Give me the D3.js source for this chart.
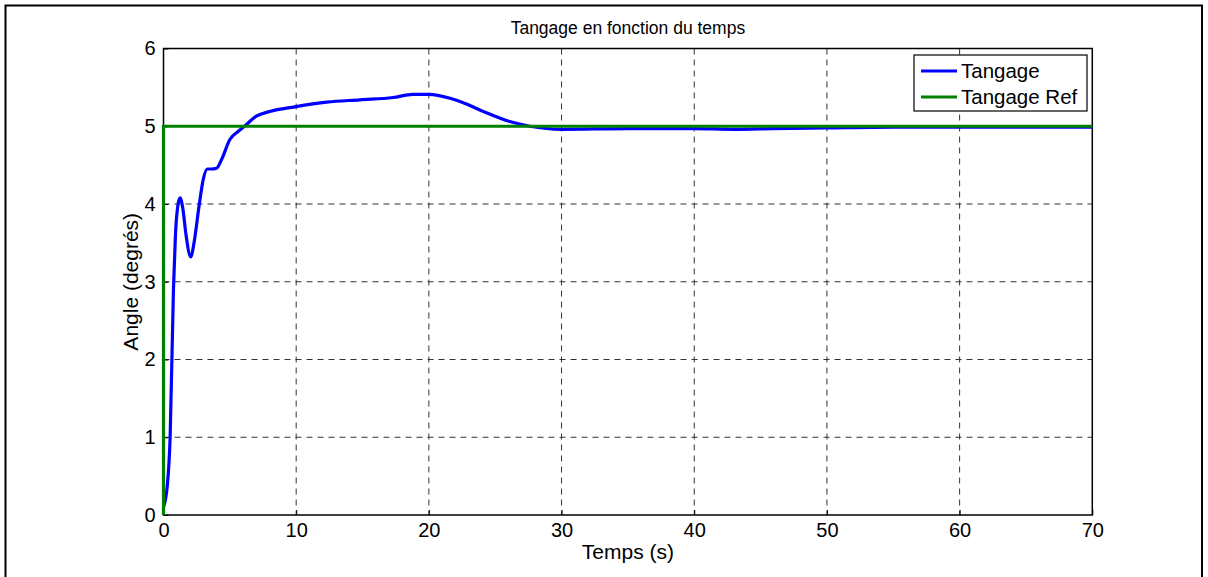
<!DOCTYPE html>
<html>
<head>
<meta charset="utf-8">
<script src="https://cdn.jsdelivr.net/npm/d3@7"></script>
<style>
body { margin:0; background:#fff; }
text { font-family: "Liberation Sans", Arial, sans-serif; fill:#000; }
</style>
</head>
<body>
<script>
// Tangage response
var tTime = [0,0.3,0.5,0.75,0.9,1.1,1.25,1.45,1.7,2.05,2.3,2.7,3.0,3.3,3.6,4.0,4.4,5.0,5.6,6.1,7.0,8.0,9.9,12.3,14.8,17.3,18.8,20.0,21.6,22.5,24.1,26.1,27.6,30.0,35,40,43,46,50,55,60,65,70];
var tAngle = [0.1,0.4,1.0,2.9,3.6,4.0,4.08,3.95,3.6,3.32,3.5,4.0,4.32,4.45,4.45,4.46,4.58,4.83,4.93,5.0,5.13,5.19,5.25,5.31,5.34,5.37,5.41,5.41,5.36,5.31,5.19,5.06,5.0,4.96,4.97,4.97,4.96,4.97,4.98,4.99,4.99,4.99,4.99];
// reference step
var refTime = [0,0,70];
var refAngle = [0,5,5];

var xTicks = [0,10,20,30,40,50,60,70];
var yTicks = [0,1,2,3,4,5,6];

var width = 1208, height = 577;
var margin = {left:163.5, right:115.7, top:48.5, bottom:62};
var w = width - margin.left - margin.right;
var h = height - margin.top - margin.bottom;

var x = d3.scaleLinear().domain([0,70]).range([0,w]);
var y = d3.scaleLinear().domain([0,6]).range([h,0]);

var svg = d3.select("body").append("svg").attr("width",width).attr("height",height);

// figure frame
svg.append("rect").attr("x",5.5).attr("y",5.5).attr("width",1196.5).attr("height",600)
   .attr("fill","none").attr("stroke","#000").attr("stroke-width",2);

var g = svg.append("g").attr("transform","translate("+margin.left+","+margin.top+")");

// grid
g.selectAll(".gx").data(xTicks.slice(1,-1)).enter().append("line")
  .attr("x1",function(d){return x(d);}).attr("x2",function(d){return x(d);})
  .attr("y1",0).attr("y2",h)
  .attr("stroke","#333").attr("stroke-width",1).attr("stroke-dasharray","6,5");
g.selectAll(".gy").data(yTicks.slice(1,-1)).enter().append("line")
  .attr("y1",function(d){return y(d);}).attr("y2",function(d){return y(d);})
  .attr("x1",0).attr("x2",w)
  .attr("stroke","#333").attr("stroke-width",1).attr("stroke-dasharray","6,5");

// axes
var xAxis = d3.axisBottom(x).tickValues(xTicks).tickSize(-5).tickPadding(8).tickFormat(d3.format("d"));
var yAxis = d3.axisLeft(y).tickValues(yTicks).tickSize(-5).tickPadding(8).tickFormat(d3.format("d"));
var gx = g.append("g").attr("transform","translate(0,"+h+")").call(xAxis);
var gy = g.append("g").call(yAxis);
gx.attr("font-size",20).attr("font-family","'Liberation Sans', Arial, sans-serif");
gy.attr("font-size",20).attr("font-family","'Liberation Sans', Arial, sans-serif");
g.selectAll(".domain").remove();

// box
g.append("rect").attr("x",0).attr("y",0).attr("width",w).attr("height",h)
  .attr("fill","none").attr("stroke","#000").attr("stroke-width",1.5);

// lines
var tData = tTime.map(function(t,i){return [t,tAngle[i]];});
var rData = refTime.map(function(t,i){return [t,refAngle[i]];});
var line = d3.line().x(function(d){return x(d[0]);}).y(function(d){return y(d[1]);});

g.append("path").datum(tData).attr("d",line.curve(d3.curveMonotoneX))
  .attr("fill","none").attr("stroke","#0000ff").attr("stroke-width",3.2);
g.append("path").datum(rData).attr("d",d3.line().x(function(d){return x(d[0]);}).y(function(d){return y(d[1]);}))
  .attr("fill","none").attr("stroke","#008000").attr("stroke-width",3.2);

// titles
svg.append("text").attr("x",margin.left+w/2).attr("y",34).attr("text-anchor","middle")
  .style("font-size","17.5px").text("Tangage en fonction du temps");
svg.append("text").attr("x",margin.left+w/2).attr("y",559).attr("text-anchor","middle")
  .style("font-size","21px").text("Temps (s)");
svg.append("text").attr("transform","translate(138,"+(margin.top+h/2)+") rotate(-90)")
  .attr("text-anchor","middle").style("font-size","21px").text("Angle (degrés)");

// legend
var legNames = ["Tangage","Tangage Ref"];
var legColors = ["#0000ff","#008000"];
var leg = svg.append("g").attr("transform","translate(914,55)");
leg.append("rect").attr("width",173).attr("height",56).attr("fill","#fff")
  .attr("stroke","#000").attr("stroke-width",1.2);
legNames.forEach(function(n,i){
  var yy = 16 + i*26;
  leg.append("line").attr("x1",7).attr("x2",43).attr("y1",yy).attr("y2",yy)
    .attr("stroke",legColors[i]).attr("stroke-width",3.2);
  leg.append("text").attr("x",47).attr("y",yy+7).style("font-size","20.5px").text(n);
});
</script>
</body>
</html>
